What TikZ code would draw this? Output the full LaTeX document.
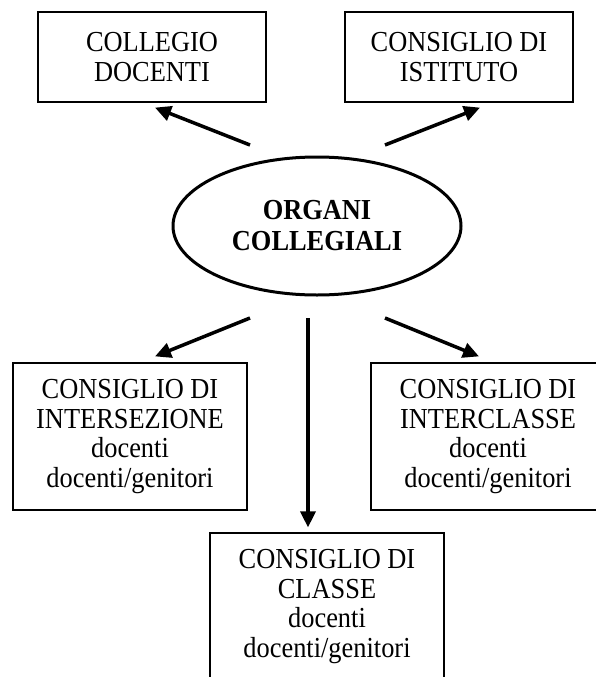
\documentclass[tikz,border=0pt]{standalone}
\usepackage{fontspec}
\setmainfont[FakeStretch=0.91]{Liberation Serif}
\usepackage{tikz}
\usetikzlibrary{calc,arrows.meta,shapes.geometric}

\begin{document}
\begin{tikzpicture}[x=1pt,y=-1pt,
  box/.style={draw,line width=1.2pt,minimum width=228pt,minimum height=90pt,
    align=center,inner sep=0pt,font=\fontsize{29}{29.5}\selectfont},
  bigbox/.style={box,minimum width=234pt,minimum height=147pt},
  organo/.style={draw,ellipse,line width=3pt,minimum width=288pt,minimum height=138pt,
    align=center,inner sep=0pt,font=\fontsize{29}{31}\selectfont\bfseries},
  freccia/.style={line width=3.5pt,-{Triangle[length=16pt,width=15pt]}}]
  \useasboundingbox (0,0) rectangle (596,677);
  \clip (0,0) rectangle (596,677);

  % centre
  \node[organo] (organi) at (317,226) {ORGANI\\COLLEGIALI};

  % upper boxes
  \node[box] (collegio) at (152,57) {COLLEGIO\\DOCENTI};
  \node[box] (istituto) at (459,57) {CONSIGLIO DI\\ISTITUTO};

  % lower boxes
  \node[bigbox] (intersezione) at (130,436.5)
    {CONSIGLIO DI\\INTERSEZIONE\\docenti\\docenti/genitori};
  \node[bigbox] (interclasse) at (488,436.5)
    {CONSIGLIO DI\\INTERCLASSE\\docenti\\docenti/genitori};
  \node[bigbox] (classe) at (327,606.5)
    {CONSIGLIO DI\\CLASSE\\docenti\\docenti/genitori};

  % arrows
  \draw[freccia] ($(organi.center)+(-67,-81)$) -- ($(collegio.south)+(3,5)$);
  \draw[freccia] ($(organi.center)+(68,-81)$) -- ($(istituto.south)+(21,5)$);
  \draw[freccia] ($(organi.center)+(-67,92)$) -- ($(intersezione.north)+(25,-6)$);
  \draw[freccia] ($(organi.center)+(-9,92)$) -- ($(classe.north)+(-19,-5)$);
  \draw[freccia] ($(organi.center)+(68,92)$) -- ($(interclasse.north)+(-9,-6)$);
\end{tikzpicture}
\end{document}
